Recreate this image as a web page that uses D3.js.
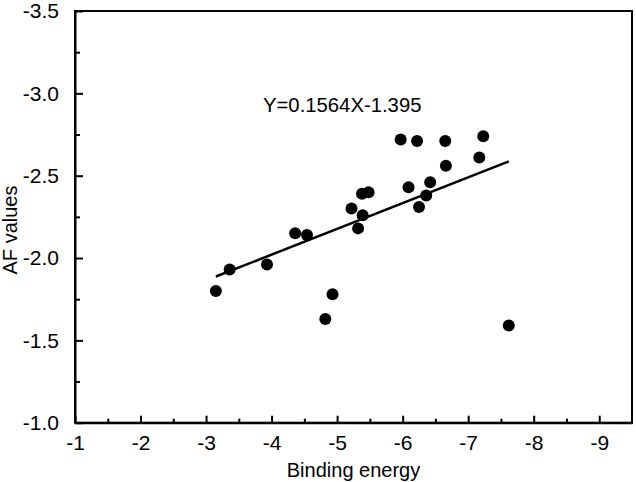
<!DOCTYPE html>
<html>
<head>
<meta charset="utf-8">
<script src="https://cdn.jsdelivr.net/npm/d3@7"></script>
<style>
  html, body { margin: 0; padding: 0; background: #fff; }
  text { font-family: "Liberation Sans", Arial, sans-serif; fill: #000; }
</style>
</head>
<body>
<svg id="chart" width="636" height="482"></svg>
<script>
// Data
const bindingEnergy = [-3.15, -3.36, -3.93, -4.36, -4.54, -4.82, -4.93, -5.22, -5.32, -5.38, -5.39, -5.48,
                       -5.97, -6.09, -6.22, -6.25, -6.36, -6.42, -6.65, -6.66, -7.17, -7.23, -7.62];
const afValues     = [-1.80, -1.93, -1.96, -2.15, -2.14, -1.63, -1.78, -2.30, -2.18, -2.39, -2.26, -2.40,
                       -2.72, -2.43, -2.71, -2.31, -2.38, -2.46, -2.71, -2.56, -2.61, -2.74, -1.59];
const fitSlope = 0.1564;
const fitIntercept = -1.395;
const fitLabel = "Y=0.1564X-1.395";
const xTicks = [-1, -2, -3, -4, -5, -6, -7, -8, -9];
const xMinorTicks = [-1.5, -2.5, -3.5, -4.5, -5.5, -6.5, -7.5, -8.5];
const yTicks = [-1.0, -1.5, -2.0, -2.5, -3.0, -3.5];
const yMinorTicks = [-1.25, -1.75, -2.25, -2.75, -3.25];
const xTitle = "Binding energy";
const yTitle = "AF values";

const svg = d3.select("#chart");
const mLeft = 75, mRight = 632, mTop = 11, mBottom = 422.7;

const x = d3.scaleLinear().domain([-1, -9.5]).range([mLeft, mRight]);
const y = d3.scaleLinear().domain([-1, -3.5]).range([mBottom, mTop]);

const hyphen = f => (d => f(d).replace("\u2212", "-"));

// Frame
svg.append("rect")
  .attr("x", mLeft).attr("y", mTop)
  .attr("width", mRight - mLeft).attr("height", mBottom - mTop)
  .attr("fill", "none").attr("stroke", "#000").attr("stroke-width", 2);

// X axis (ticks inward)
const xAxis = svg.append("g").attr("transform", `translate(0,${mBottom})`)
  .call(d3.axisBottom(x).tickValues(xTicks).tickSizeInner(-7).tickSizeOuter(0).tickPadding(12)
    .tickFormat(hyphen(d3.format("d"))));
xAxis.select(".domain").attr("stroke-width", 2);
xAxis.selectAll(".tick line").attr("stroke-width", 2);
xAxis.selectAll("text").attr("font-size", 21).attr("font-family", "Liberation Sans, Arial, sans-serif").attr("fill", "#000");

const xMinor = svg.append("g").attr("transform", `translate(0,${mBottom})`)
  .call(d3.axisBottom(x).tickValues(xMinorTicks).tickSizeInner(-4).tickSizeOuter(0).tickFormat(""));
xMinor.select(".domain").remove();
xMinor.selectAll(".tick line").attr("stroke-width", 2);

// Y axis (ticks inward)
const yAxis = svg.append("g").attr("transform", `translate(${mLeft},0)`)
  .call(d3.axisLeft(y).tickValues(yTicks).tickSizeInner(-8).tickSizeOuter(0).tickPadding(16)
    .tickFormat(hyphen(d3.format(".1f"))));
yAxis.select(".domain").attr("stroke-width", 2);
yAxis.selectAll(".tick line").attr("stroke-width", 2);
yAxis.selectAll("text").attr("font-size", 21).attr("font-family", "Liberation Sans, Arial, sans-serif").attr("fill", "#000");

const yMinor = svg.append("g").attr("transform", `translate(${mLeft},0)`)
  .call(d3.axisLeft(y).tickValues(yMinorTicks).tickSizeInner(-5).tickSizeOuter(0).tickFormat(""));
yMinor.select(".domain").remove();
yMinor.selectAll(".tick line").attr("stroke-width", 2);

// Fit line across the data extent
const xExt = d3.extent(bindingEnergy);
svg.append("line")
  .attr("x1", x(xExt[0])).attr("y1", y(fitSlope * xExt[0] + fitIntercept))
  .attr("x2", x(xExt[1])).attr("y2", y(fitSlope * xExt[1] + fitIntercept))
  .attr("stroke", "#000").attr("stroke-width", 2.5);

// Points
svg.append("g").selectAll("circle")
  .data(bindingEnergy.map((v, i) => [v, afValues[i]]))
  .join("circle")
  .attr("cx", d => x(d[0])).attr("cy", d => y(d[1]))
  .attr("r", 6).attr("fill", "#000");

// Equation
svg.append("text").attr("x", 263).attr("y", 112)
  .attr("font-size", 20.3).text(fitLabel);

// Axis titles
svg.append("text").attr("x", (mLeft + mRight) / 2).attr("y", 477)
  .attr("text-anchor", "middle").attr("font-size", 20).text(xTitle);
svg.append("text")
  .attr("transform", `translate(17,230) rotate(-90)`)
  .attr("text-anchor", "middle").attr("font-size", 20).text(yTitle);
</script>
</body>
</html>
